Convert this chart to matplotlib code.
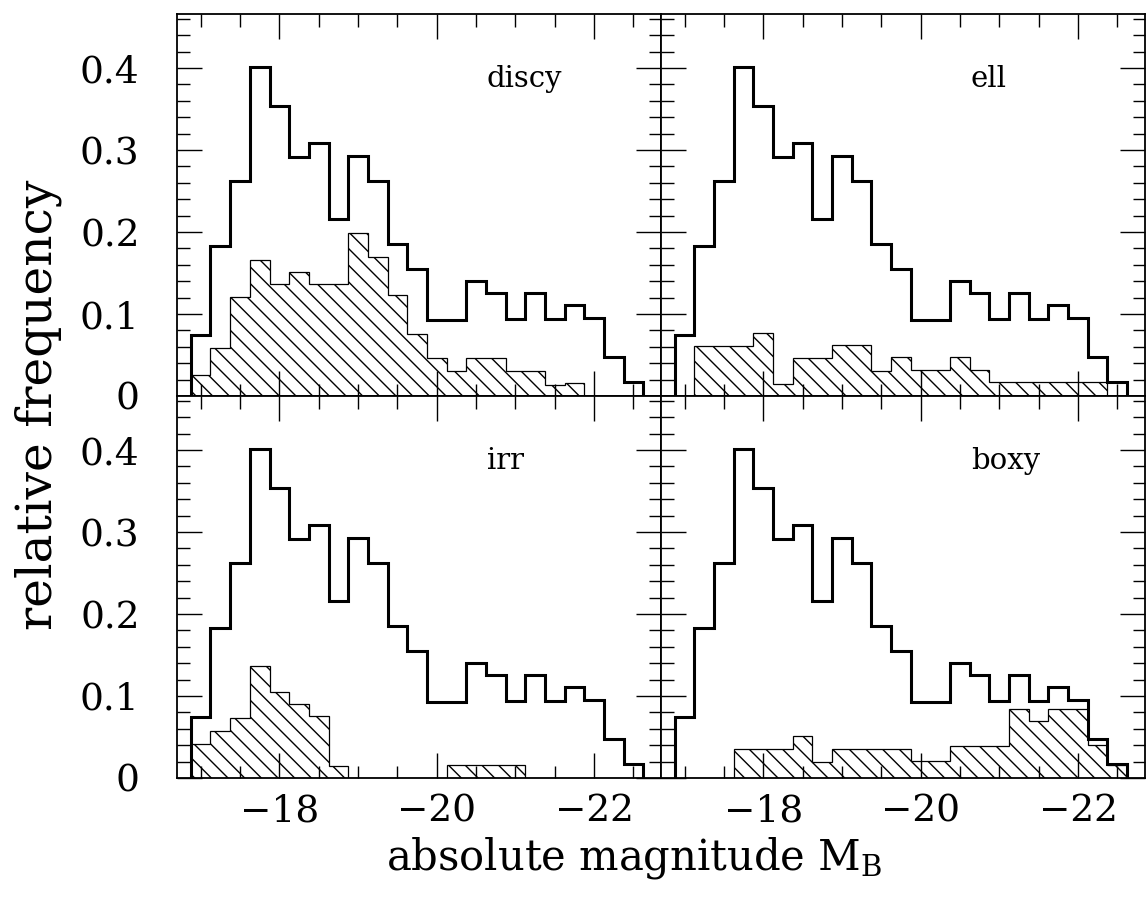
import matplotlib
matplotlib.use("Agg")
import matplotlib.pyplot as plt
import numpy as np
from matplotlib.ticker import MultipleLocator, FuncFormatter

# ---------------- data ----------------
# 0.25-mag bins of absolute magnitude M_B, faint -> bright
bin_first_edge = -16.875
bin_width = 0.25
n_bins = 23

# full sample (same outline in every panel)
total = [0.074, 0.183, 0.262, 0.401, 0.354, 0.292, 0.309, 0.216, 0.293, 0.262,
         0.186, 0.155, 0.093, 0.093, 0.140, 0.126, 0.094, 0.126, 0.094, 0.111,
         0.095, 0.048, 0.017]

discy = [0.026, 0.058, 0.121, 0.166, 0.137, 0.151, 0.137, 0.137, 0.199, 0.169,
         0.123, 0.076, 0.046, 0.030, 0.046, 0.046, 0.030, 0.030, 0.014, 0.016,
         0.0, 0.0, 0.0]

ell = [0.0, 0.061, 0.061, 0.061, 0.077, 0.015, 0.046, 0.046, 0.062, 0.062,
       0.031, 0.047, 0.032, 0.032, 0.047, 0.032, 0.017, 0.017, 0.017, 0.017,
       0.017, 0.017, 0.0]

irr = [0.042, 0.057, 0.073, 0.136, 0.105, 0.090, 0.075, 0.015, 0.0, 0.0,
       0.0, 0.0, 0.0, 0.016, 0.016, 0.016, 0.016, 0.0, 0.0, 0.0,
       0.0, 0.0, 0.0]

boxy = [0.0, 0.0, 0.0, 0.035, 0.035, 0.035, 0.051, 0.019, 0.035, 0.035,
        0.035, 0.035, 0.021, 0.021, 0.039, 0.039, 0.039, 0.084, 0.069, 0.084,
        0.084, 0.040, 0.016]

panel_names = ["discy", "ell", "irr", "boxy"]
panel_data = [discy, ell, irr, boxy]

x_major_ticks = [-18, -20, -22]
y_major_step = 0.1

# ---------------- figure ----------------
plt.rcParams["font.family"] = ["DejaVu Serif"]
plt.rcParams["mathtext.fontset"] = "dejavuserif"
plt.rcParams["hatch.linewidth"] = 1.0

fig = plt.figure(figsize=(11.46, 8.97), dpi=100)
gs = fig.add_gridspec(2, 2, left=0.1545, right=0.999, top=0.9844, bottom=0.1327,
                      hspace=0, wspace=0)
axes = gs.subplots(sharex=True, sharey=True)

edges = bin_first_edge - bin_width * np.arange(n_bins + 1)

for ax, name, vals in zip(axes.flat, panel_names, panel_data):
    ax.stairs(np.array(vals)[::-1], edges[::-1], fill=True, facecolor="none",
              edgecolor="black", hatch="\\\\", linewidth=0.9)
    ax.stairs(np.array(total)[::-1], edges[::-1], color="black", linewidth=2.2,
              baseline=0)
    ax.text(0.64, 0.81, name, transform=ax.transAxes, fontsize=21,
            ha="left", va="baseline")
    ax.set_xlim(-16.7, -22.85)
    ax.set_ylim(0, 0.466)
    ax.xaxis.set_major_locator(plt.FixedLocator(x_major_ticks))
    ax.xaxis.set_minor_locator(MultipleLocator(0.5))
    ax.yaxis.set_major_locator(MultipleLocator(y_major_step))
    ax.yaxis.set_minor_locator(MultipleLocator(0.02))
    ax.xaxis.set_major_formatter(FuncFormatter(lambda v, p: f"{v:.0f}".replace("-", "\u2212")))
    ax.yaxis.set_major_formatter(FuncFormatter(lambda v, p: "0" if abs(v) < 1e-9 else f"{v:.1f}"))
    ax.tick_params(which="both", direction="in", top=True, right=True, width=1.0)
    ax.tick_params(which="major", length=18, labelsize=27)
    ax.tick_params(axis="y", which="major", pad=27)
    ax.tick_params(axis="x", which="major", pad=11)
    ax.tick_params(which="minor", length=9)
    for s in ax.spines.values():
        s.set_linewidth(1.3)

for ax in axes.flat:
    ax.label_outer()

fig.text(38 / 1146, 1 - 405 / 897, "relative frequency", rotation=90,
         ha="center", va="center", fontsize=35)
fig.text(634 / 1146, 1 - 858 / 897, r"absolute magnitude M$_\mathrm{B}$",
         ha="center", va="center", fontsize=30)

fig.savefig("out.png", dpi=100)
